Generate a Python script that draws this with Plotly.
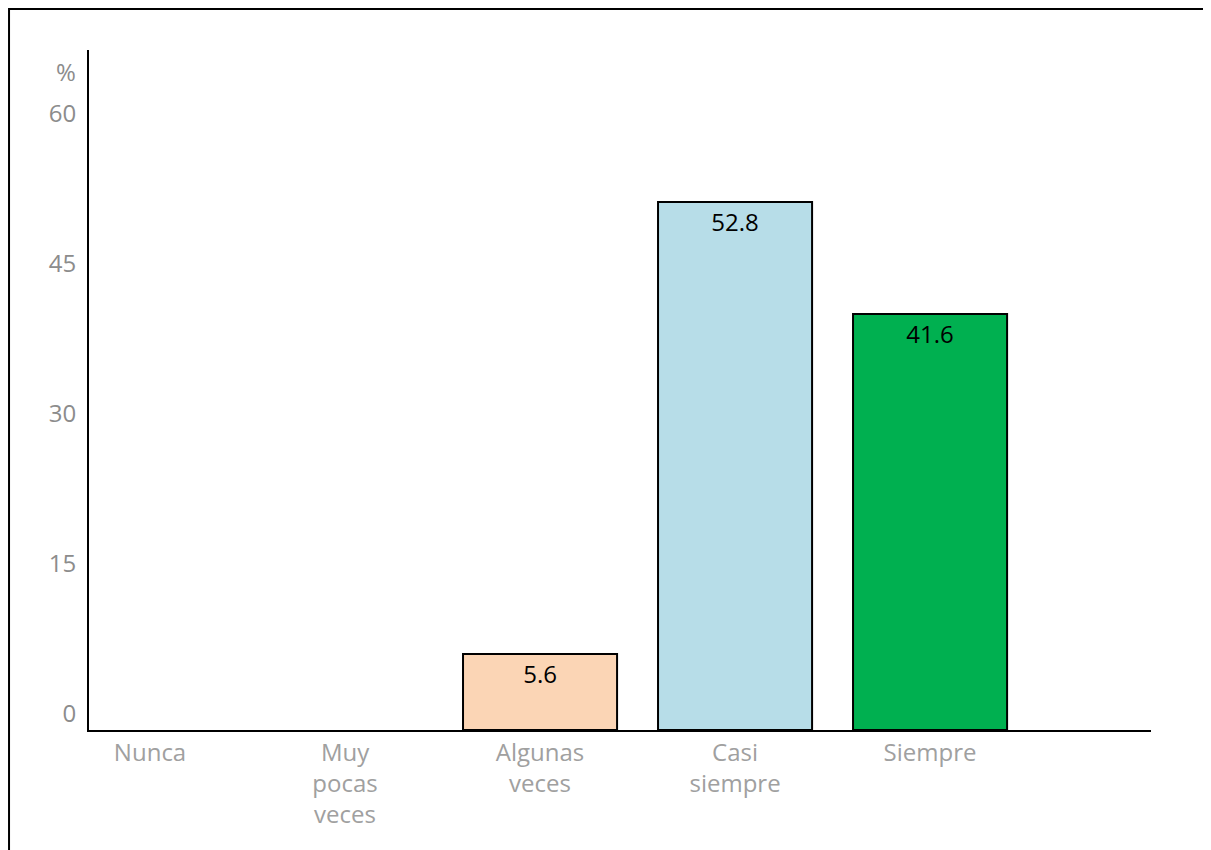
import plotly.graph_objects as go

categories = ["Nunca", "Muy<br>pocas<br>veces", "Algunas<br>veces", "Casi<br>siempre", "Siempre"]
values = [0, 0, 7.6, 52.8, 41.6]          # bar heights as drawn in the picture
labels = ["", "", "5.6", "52.8", "41.6"]  # printed value labels
colors = ["#FBD5B5", "#FBD5B5", "#FBD5B5", "#B7DDE8", "#00B050"]
y_ticks = [0, 15, 30, 45, 60]

FONT = "Open Sans"

fig = go.Figure()
fig.add_trace(go.Bar(
    x=categories, y=values,
    marker=dict(color=colors,
                line=dict(color="black", width=[0 if v == 0 else 2 for v in values])),
    width=0.79,
    text=labels, textposition="inside", insidetextanchor="end",
    textangle=0,
    textfont=dict(family=FONT, size=24, color="black"),
    cliponaxis=False,
))

fig.update_layout(
    width=1211, height=850,
    margin=dict(l=81, r=68, t=42, b=128),
    paper_bgcolor="white", plot_bgcolor="white",
    showlegend=False,
    font=dict(family=FONT, size=24, color="#8C8C8C"),
    xaxis=dict(
        type="category",
        range=[-0.313, 5.133],
        showline=True, linecolor="black", linewidth=2,
        showgrid=False, ticks="", zeroline=False,
        tickfont=dict(family=FONT, size=24, color="#A0A0A0"),
    ),
    yaxis=dict(
        range=[0, 68],
        tickvals=y_ticks,
        ticktext=[str(v) for v in y_ticks],
        ticklabelposition="outside top",
        showline=True, linecolor="black", linewidth=2,
        showgrid=False, ticks="", zeroline=False,
        ticklabelstandoff=6,
        tickfont=dict(family=FONT, size=24, color="#8C8C8C"),
    ),
    annotations=[dict(
        text="%", xref="paper", yref="paper", x=-0.010, y=0.968,
        xanchor="right", yanchor="middle", showarrow=False,
        font=dict(family=FONT, size=24, color="#8C8C8C"),
    )],
    shapes=[dict(
        type="rect", xref="paper", yref="paper",
        x0=-0.0753, x1=1.0537, y0=-0.2, y1=1.0603,
        line=dict(color="black", width=2), fillcolor="rgba(0,0,0,0)",
        layer="below",
    )],
)

fig.write_html("out.html")
